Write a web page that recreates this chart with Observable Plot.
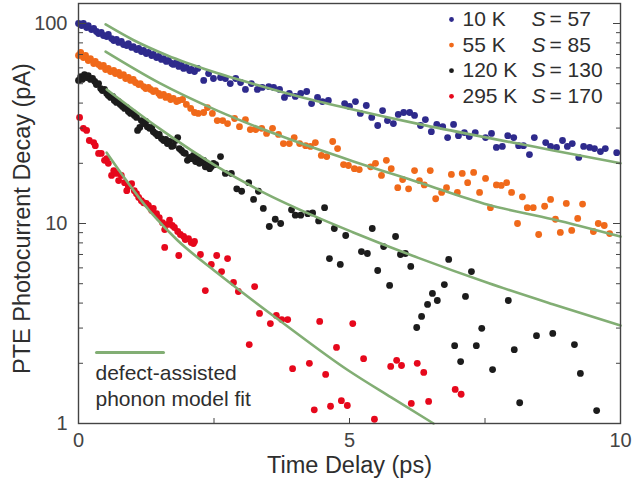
<!DOCTYPE html>
<html><head><meta charset="utf-8">
<script src="https://cdn.jsdelivr.net/npm/d3@7"></script>
<script src="https://cdn.jsdelivr.net/npm/@observablehq/plot@0.6"></script>
<style>body{margin:0;background:#fff}#chart{position:absolute;left:0;top:0}</style>
</head><body><div id="chart"></div>
<script>
// [time delay (ps), photocurrent (pA)]
const k10 = [[0.00,100],[0.06,97.7],[0.09,100],[0.15,95.5],[0.18,97.7],[0.24,93.3],[0.28,94.4],[0.33,91.2],[0.37,89.1],[0.42,90.2],[0.46,87.1],[0.52,86.1],[0.55,88.1],[0.61,84.1],[0.65,82.2],[0.70,83.2],[0.74,80.4],[0.79,81.3],[0.83,78.5],[0.89,77.6],[0.92,79.4],[0.98,75.9],[1.01,76.7],[1.07,74.1],[1.11,75.0],[1.16,72.4],[1.20,73.3],[1.25,70.8],[1.29,71.6],[1.35,69.2],[1.38,70.0],[1.44,67.6],[1.48,68.4],[1.53,66.1],[1.57,66.8],[1.62,64.6],[1.66,65.3],[1.72,63.1],[1.75,62.4],[1.81,63.8],[1.85,61.0],[1.90,61.7],[1.94,59.6],[1.99,60.3],[2.05,58.2],[2.08,58.9],[2.14,57.5],[2.20,59.6],[2.31,51.9],[2.40,56.2],[2.49,53.1],[2.62,53.7],[2.71,53.1],[2.80,50.1],[2.90,53.1],[2.99,50.7],[3.08,46.8],[3.19,50.1],[3.30,46.8],[3.39,47.9],[3.51,48.4],[3.60,47.9],[3.71,46.8],[3.80,42.7],[3.89,44.7],[4.00,43.2],[4.10,44.7],[4.21,45.7],[4.30,39.8],[4.41,42.7],[4.50,40.7],[4.61,41.2],[4.91,39.8],[5.00,38.5],[5.11,40.7],[5.20,35.5],[5.31,38.9],[5.41,33.9],[5.52,30.9],[5.61,36.7],[5.70,32.7],[5.81,31.6],[5.90,35.1],[6.00,35.9],[6.11,35.9],[6.20,34.7],[6.31,30.9],[6.40,33.1],[6.51,28.8],[6.61,31.3],[6.72,30.5],[6.81,26.9],[6.92,31.3],[7.01,27.5],[7.12,28.5],[7.21,27.2],[7.32,28.5],[7.51,26.9],[7.62,28.2],[7.71,24.0],[7.82,24.3],[7.92,27.5],[8.03,26.9],[8.12,24.5],[8.21,24.5],[8.32,22.1],[8.41,26.9],[8.62,25.4],[8.71,24.3],[8.82,24.0],[8.93,26.0],[9.02,24.3],[9.11,25.1],[9.23,21.4],[9.32,24.3],[9.43,24.0],[9.52,23.7],[9.63,22.9],[9.72,23.7],[9.93,22.6]];
const k55 = [[0.00,69.2],[0.04,71.6],[0.09,67.6],[0.13,69.2],[0.18,65.3],[0.22,66.8],[0.28,63.1],[0.31,64.6],[0.37,62.4],[0.41,61.0],[0.46,61.7],[0.50,58.9],[0.55,59.6],[0.59,57.5],[0.65,58.2],[0.68,56.2],[0.74,56.9],[0.77,54.9],[0.83,55.5],[0.87,53.1],[0.92,53.7],[0.96,51.9],[1.01,52.5],[1.05,50.7],[1.11,49.5],[1.14,50.1],[1.20,48.4],[1.24,47.3],[1.29,47.9],[1.33,46.8],[1.38,45.7],[1.42,46.2],[1.48,44.7],[1.51,43.7],[1.57,44.2],[1.61,42.7],[1.66,43.2],[1.70,41.7],[1.75,42.2],[1.81,40.7],[1.85,41.2],[1.92,41.7],[1.99,39.4],[2.07,37.6],[2.14,35.9],[2.21,35.5],[2.31,35.9],[2.38,38.0],[2.47,35.5],[2.56,32.7],[2.66,32.7],[2.75,31.6],[2.88,33.5],[2.97,30.5],[3.08,33.1],[3.17,29.5],[3.27,29.5],[3.38,29.9],[3.47,28.2],[3.58,29.9],[3.69,27.9],[3.78,25.1],[3.89,25.1],[3.98,26.9],[4.08,25.1],[4.19,24.5],[4.28,24.3],[4.37,25.4],[4.48,21.9],[4.58,21.6],[4.69,25.7],[4.78,23.7],[4.89,19.7],[4.98,19.5],[5.09,18.8],[5.18,18.6],[5.39,19.2],[5.48,20.0],[5.59,17.4],[5.68,20.7],[5.77,18.8],[5.89,15.1],[5.98,16.6],[6.09,14.9],[6.20,18.4],[6.29,16.4],[6.38,15.6],[6.49,18.4],[6.59,13.3],[6.70,14.3],[6.79,15.1],[6.88,17.6],[6.99,14.3],[7.08,17.8],[7.18,16.0],[7.29,18.0],[7.40,14.3],[7.51,16.8],[7.60,12.0],[7.71,15.6],[7.80,15.5],[7.90,16.0],[7.99,14.3],[8.10,10.0],[8.19,13.6],[8.28,12.0],[8.39,12.0],[8.49,8.81],[8.60,12.2],[8.71,13.2],[8.80,10.5],[8.89,9.02],[9.00,12.6],[9.10,9.23],[9.21,10.6],[9.30,12.5],[9.50,9.12],[9.59,10.0],[9.70,9.77],[9.80,8.91]];
const k120 = [[0.00,51.9],[0.04,54.3],[0.07,52.5],[0.11,55.5],[0.15,53.7],[0.18,54.9],[0.22,52.5],[0.26,53.1],[0.30,51.3],[0.33,49.5],[0.37,50.1],[0.41,47.3],[0.44,46.2],[0.48,46.8],[0.52,44.7],[0.55,43.7],[0.59,42.7],[0.63,43.2],[0.66,41.2],[0.70,40.3],[0.74,40.7],[0.77,39.4],[0.81,38.5],[0.85,37.6],[0.89,38.0],[0.92,36.3],[0.96,35.5],[1.00,35.9],[1.03,34.7],[1.07,33.9],[1.09,29.2],[1.13,30.2],[1.16,32.7],[1.20,31.6],[1.24,32.4],[1.27,30.5],[1.31,29.9],[1.35,30.2],[1.38,28.8],[1.42,28.2],[1.46,27.5],[1.49,27.9],[1.53,26.6],[1.57,26.0],[1.61,26.3],[1.64,25.1],[1.68,25.7],[1.72,24.3],[1.75,24.5],[1.79,26.0],[1.83,26.9],[1.86,23.7],[1.90,23.2],[1.94,22.6],[1.97,22.4],[2.01,20.7],[2.05,21.4],[2.08,21.1],[2.12,21.9],[2.16,20.4],[2.20,21.4],[2.23,20.0],[2.27,20.2],[2.31,20.7],[2.34,19.2],[2.38,19.7],[2.42,18.8],[2.45,19.2],[2.49,20.0],[2.53,19.7],[2.62,21.6],[2.71,17.8],[2.82,17.8],[2.92,14.9],[3.01,14.5],[3.14,16.0],[3.23,13.2],[3.32,14.5],[3.41,11.9],[3.52,9.66],[3.63,10.5],[3.73,10.0],[3.93,11.7],[4.00,11.0],[4.10,11.0],[4.23,11.2],[4.32,11.3],[4.43,10.3],[4.54,12.0],[4.63,6.68],[4.72,9.44],[4.83,6.24],[4.93,8.71],[5.22,7.24],[5.33,7.08],[5.42,9.44],[5.52,5.82],[5.63,7.67],[5.74,4.90],[5.85,8.61],[5.94,7.00],[6.03,7.08],[6.13,6.10],[6.24,3.02],[6.33,3.43],[6.44,3.94],[6.53,4.47],[6.62,4.12],[6.75,4.95],[6.83,6.61],[6.94,2.45],[7.05,2.04],[7.14,4.32],[7.25,5.75],[7.34,2.45],[7.44,2.99],[7.64,1.86],[7.93,4.12],[8.04,2.34],[8.14,1.27],[8.45,2.75],[8.75,2.82],[9.15,2.48],[9.26,1.78],[9.56,1.16]];
const k295 = [[0.02,33.9],[0.09,29.9],[0.15,29.2],[0.20,26.0],[0.28,25.4],[0.31,24.5],[0.37,22.4],[0.42,22.4],[0.48,20.7],[0.52,21.1],[0.55,20.0],[0.61,17.4],[0.65,18.4],[0.70,17.8],[0.74,16.4],[0.79,17.4],[0.85,16.0],[0.89,14.6],[0.92,15.3],[0.98,15.8],[1.03,14.6],[1.07,14.1],[1.11,13.5],[1.16,13.0],[1.20,12.7],[1.25,12.6],[1.29,12.3],[1.35,11.6],[1.38,11.9],[1.44,11.2],[1.49,10.7],[1.55,10.1],[1.59,9.33],[1.64,9.89],[1.68,10.4],[1.73,9.77],[1.77,9.55],[1.83,9.12],[1.88,8.81],[1.94,8.61],[1.97,8.32],[2.03,8.41],[2.08,8.04],[2.12,7.94],[2.14,8.13],[1.59,7.59],[1.85,6.92],[2.25,7.00],[2.34,4.62],[2.45,6.24],[2.55,6.92],[2.64,5.75],[2.75,6.68],[2.86,5.07],[2.95,4.57],[3.15,2.48],[3.25,4.84],[3.34,3.55],[3.54,3.16],[3.65,3.47],[3.75,3.31],[3.86,3.31],[3.95,1.88],[4.26,2.00],[4.35,1.17],[4.45,3.24],[4.56,1.76],[4.65,1.22],[4.76,2.40],[4.85,1.30],[4.96,1.23],[5.06,3.16],[5.26,2.11],[5.46,1.05],[5.76,1.93],[5.87,2.07],[5.96,1.95],[6.14,1.26],[6.25,2.00],[6.37,1.80],[6.46,1.29],[6.95,1.48],[7.06,1.40]];
// defect-assisted phonon model fits
const fit10 = [[0.50,98.9],[1.01,82.7],[1.64,69.2],[2.47,57.5],[3.36,48.7],[4.10,42.9],[4.98,37.6],[6.31,31.3],[7.56,26.8],[8.76,23.2],[10.0,20.0]];
const fit55 = [[0.50,72.4],[1.49,50.5],[2.55,36.8],[3.76,27.2],[5.06,20.5],[6.27,16.1],[7.56,12.4],[8.75,10.5],[10.0,8.6]];
const fit120 = [[0.52,46.8],[1.49,29.9],[2.55,19.3],[3.39,14.4],[4.32,10.98],[5.06,9.05],[6.27,6.73],[7.56,5.04],[8.75,3.95],[10.0,3.09]];
const fit295 = [[0.52,22.6],[1.38,11.0],[1.83,8.22],[2.55,5.69],[3.76,3.20],[4.98,1.84],[5.77,1.35],[6.55,1.0]];

const temps = ["10 K","55 K","120 K","295 K"];
const sVals = [57, 85, 130, 170];
const colors = ["#2e2a8c","#f0691a","#1c1c1c","#e6081c"];
const dataSets = [k10, k55, k120, k295];
const fits = [fit10, fit55, fit120, fit295];
const yMajor = [1, 10, 100];
const yMinor = [2,3,4,5,6,7,8,9,20,30,40,50,60,70,80,90];
const xMajor = [0, 5, 10];
const xMinor = [2.5, 7.5];
const fitColor = "#82ae74";
const ink = "#2e2e2e";

const lineShape = {draw(ctx, l) { ctx.moveTo(0, 0); ctx.lineTo(0, -l); }};

const marks = [];
for (let s = 3; s >= 0; s--) {
  marks.push(Plot.dot(dataSets[s], {x: d => d[0], y: d => d[1], r: 3.4, fill: colors[s], stroke: "none"}));
}
fits.forEach(f => marks.push(Plot.line(f, {x: d => d[0], y: d => d[1], stroke: fitColor, strokeWidth: 2.6, curve: "monotone-x"})));
marks.push(
  Plot.frame({stroke: "#444", strokeWidth: 1.4}),
  Plot.axisY({ticks: yMajor, anchor: "left", tickSize: -8, tickPadding: 19, tickFormat: d => String(d), fontSize: 20, label: null, color: "#444"}),
  Plot.axisY({ticks: yMinor, anchor: "left", tickSize: -5, tickFormat: () => "", label: null, color: "#444"}),
  Plot.axisY({ticks: yMajor, anchor: "right", tickSize: -8, tickFormat: () => "", label: null, color: "#444"}),
  Plot.axisY({ticks: yMinor, anchor: "right", tickSize: -5, tickFormat: () => "", label: null, color: "#444"}),
  Plot.axisX({ticks: xMajor, anchor: "bottom", tickSize: -5, tickPadding: 14, tickFormat: d => String(d), fontSize: 20, label: null, color: "#444"}),
  Plot.axisX({ticks: xMinor, anchor: "bottom", tickSize: -5, tickFormat: () => "", label: null, color: "#444"}),
  Plot.text(["Time Delay (ps)"], {frameAnchor: "bottom", dy: 42, textAnchor: "middle", lineAnchor: "middle", fontSize: 23.5, fill: ink}),
  Plot.text(["PTE Photocurrent Decay (pA)"], {frameAnchor: "left", rotate: -90, dx: -56, dy: 5, textAnchor: "middle", lineAnchor: "middle", fontSize: 23.5, fill: ink})
);
temps.forEach((t, i) => {
  const dy = 16 + i * 25.6;
  const common = {frameAnchor: "top-left", dy, textAnchor: "start", lineAnchor: "middle", fontSize: 21, fill: ink};
  marks.push(
    Plot.dot([t], {frameAnchor: "top-left", dx: 373, dy, r: 2.4, fill: colors[i]}),
    Plot.text([t], {...common, dx: 384}),
    Plot.text(["S"], {...common, dx: 453, fontStyle: "italic"}),
    Plot.text(["= " + sVals[i]], {...common, dx: 471})
  );
});
marks.push(
  Plot.vector([0], {frameAnchor: "bottom-left", dx: 18, dy: -71, length: 67, rotate: 90, anchor: "start", shape: lineShape, stroke: fitColor, strokeWidth: 3}),
  Plot.text(["defect-assisted"], {frameAnchor: "bottom-left", dx: 17, dy: -50, textAnchor: "start", lineAnchor: "middle", fontSize: 21, fill: ink}),
  Plot.text(["phonon model fit"], {frameAnchor: "bottom-left", dx: 17, dy: -24, textAnchor: "start", lineAnchor: "middle", fontSize: 21, fill: ink})
);

const chart = Plot.plot({
  width: 633, height: 484,
  marginLeft: 78, marginRight: 13, marginTop: 3, marginBottom: 61,
  style: {fontFamily: "'Liberation Sans', Arial, Helvetica, sans-serif", background: "#fff", color: ink, overflow: "visible"},
  x: {domain: [0, 10]},
  y: {type: "log", domain: [1, 125.9]},
  marks
});
document.getElementById("chart").append(chart);
</script>
</body></html>
